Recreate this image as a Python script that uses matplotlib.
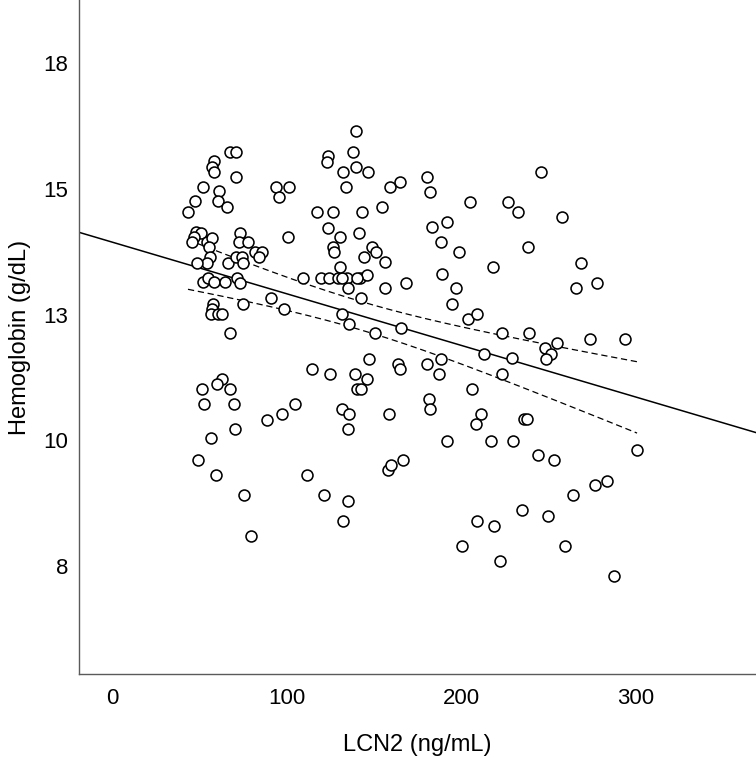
import numpy as np
import matplotlib
matplotlib.use("Agg")
import matplotlib.pyplot as plt
from matplotlib.ticker import FuncFormatter

plt.rcParams['font.family'] = ['Liberation Sans', 'DejaVu Sans']

# ---- data ----
lcn2 = [
    67.6, 71.0, 58.6, 57.1, 58.2, 71.2, 52.3, 61.1, 60.9, 65.8, 47.7, 43.5, 93.7, 101.5, 95.8,
    123.9, 123.3, 117.5, 126.7, 123.9, 100.6, 48.1, 51.0, 46.9, 45.6, 54.6, 57.1, 55.7, 73.3,
    72.7, 78.0, 55.9, 54.2, 48.5, 66.2, 71.0, 74.6, 75.2, 81.9, 85.7, 84.2, 126.7, 126.9,
    52.3, 55.2, 58.4, 64.7, 71.4, 73.3, 90.8, 74.8, 98.7, 58.0, 57.1, 56.7, 60.9, 63.1, 67.6,
    109.3, 119.5, 124.5, 129.6, 114.5, 124.6, 62.8, 59.9, 67.6, 51.4, 52.7, 69.8, 104.8, 97.5,
    88.9, 70.4, 56.7,
    49.2, 59.5, 75.8, 79.8, 111.6, 121.6,
    191.6, 217.0, 157.8, 159.7, 166.8, 135.3, 132.5, 209.0, 218.9, 200.4, 221.9,
    229.8, 243.7, 252.9, 300.6, 263.7, 276.5, 283.6, 235.0, 249.8, 259.5, 287.6,
    134.4, 142.0, 135.3, 145.8, 156.2, 168.3, 189.1, 196.9, 194.5, 142.4, 131.5, 135.7, 150.7,
    165.6, 203.8, 208.8, 223.4, 213.0, 223.1, 188.4, 180.2, 187.0, 147.1, 163.7, 165.1, 139.3,
    145.8, 140.3, 142.4, 206.3, 181.7, 182.2, 131.5, 135.9, 158.8, 211.3, 208.2, 135.3, 131.9,
    140.5,
    139.8, 138.0, 139.8, 146.8, 132.1, 134.2, 159.3, 164.9, 180.5, 181.9, 204.7, 143.3, 154.6,
    130.5, 141.4, 183.0, 192.0, 188.2, 198.5, 218.0, 149.0, 151.3, 144.4, 156.2, 130.5,
    245.8, 226.5, 232.6, 257.8, 238.3, 268.7,
    265.6, 277.7, 238.7, 254.6, 247.9, 251.2, 248.3, 273.8, 293.7, 229.2, 235.9, 237.8,
]
hemoglobin = [
    15.74, 15.74, 15.55, 15.44, 15.34, 15.24, 15.04, 14.95, 14.75, 14.64, 14.75, 14.54, 15.03,
    15.03, 14.83, 15.66, 15.54, 14.54, 14.54, 14.23, 14.04, 14.15, 14.13, 14.05, 13.95, 13.95,
    14.03, 13.85, 14.13, 13.94, 13.94, 13.65, 13.52, 13.53, 13.53, 13.65, 13.65, 13.53, 13.75,
    13.75, 13.65, 13.84, 13.74,
    13.15, 13.22, 13.15, 13.15, 13.22, 13.12, 12.83, 12.72, 12.62, 12.72, 12.62, 12.52, 12.52,
    12.52, 12.13, 13.22, 13.22, 13.22, 13.22, 11.42, 11.32, 11.22, 11.12, 11.02, 11.02, 10.72,
    10.72, 10.72, 10.52, 10.41, 10.22, 10.04,
    9.61, 9.31, 8.91, 8.10, 9.31, 8.91,
    9.98, 9.98, 9.41, 9.51, 9.61, 8.80, 8.40, 8.40, 8.30, 7.90, 7.60,
    9.98, 9.71, 9.61, 9.81, 8.91, 9.11, 9.20, 8.61, 8.50, 7.90, 7.30,
    13.22, 13.22, 13.02, 13.29, 13.02, 13.13, 13.30, 13.02, 12.72, 12.83, 12.52, 12.32, 12.13,
    12.23, 12.42, 12.52, 12.13, 11.72, 11.32, 11.62, 11.52, 11.32, 11.62, 11.52, 11.42, 11.32,
    11.22, 11.02, 11.02, 11.02, 10.82, 10.62, 10.62, 10.52, 10.52, 10.52, 10.32, 10.22, 13.22,
    13.22,
    16.15, 15.74, 15.44, 15.34, 15.34, 15.04, 15.04, 15.14, 15.24, 14.94, 14.74, 14.54, 14.64,
    14.04, 14.13, 14.24, 14.34, 13.94, 13.74, 13.44, 13.84, 13.74, 13.64, 13.54, 13.45,
    15.34, 14.74, 14.54, 14.43, 13.84, 13.53,
    13.03, 13.13, 12.13, 11.93, 11.83, 11.72, 11.62, 12.02, 12.02, 11.63, 10.42, 10.42,
]
x_ticks = [0, 100, 200, 300]
y_ticks = [7.5, 10.0, 12.5, 15.0, 17.5]
x_label = "LCN2 (ng/mL)"
y_label = "Hemoglobin (g/dL)"

x = np.asarray(lcn2)
y = np.asarray(hemoglobin)

# linear fit + 95% CI of the mean
n = len(x)
slope, intercept = np.polyfit(x, y, 1)
resid = y - (intercept + slope * x)
s = np.sqrt(np.sum(resid ** 2) / (n - 2))
xbar = x.mean()
sxx = np.sum((x - xbar) ** 2)
t = 1.973

fig = plt.figure(figsize=(7.56, 7.58), dpi=100)
ax = fig.add_axes([79 / 756, 1 - 674 / 758, 1 - 79 / 756, 674 / 758])
xlim = (-18.9, 368.7)
ylim = (5.36, 18.75)
ax.set_xlim(*xlim)
ax.set_ylim(*ylim)

xl = np.linspace(xlim[0], xlim[1], 200)
ax.plot(xl, intercept + slope * xl, color='black', lw=1.1, zorder=2)
xc = np.linspace(x.min(), x.max(), 200)
hw = t * s * np.sqrt(1 / n + (xc - xbar) ** 2 / sxx)
yc = intercept + slope * xc
ax.plot(xc, yc + hw, color='black', lw=0.9, ls=(0, (5, 3)), zorder=2)
ax.plot(xc, yc - hw, color='black', lw=0.9, ls=(0, (5, 3)), zorder=2)

ax.scatter(x, y, s=62, facecolors='white', edgecolors='black', linewidths=1.15, zorder=3)

for side in ('top', 'right'):
    ax.spines[side].set_visible(False)
for side in ('left', 'bottom'):
    ax.spines[side].set_color('#5a5a5a')
    ax.spines[side].set_linewidth(1.0)

ax.set_xticks(x_ticks)
ax.set_yticks(y_ticks)
ax.yaxis.set_major_formatter(FuncFormatter(lambda v, p: f"{int(np.floor(v + 0.5))}"))
ax.tick_params(axis='both', length=0, labelsize=16, colors='black')
ax.tick_params(axis='x', pad=10)
ax.tick_params(axis='y', pad=8)
ax.set_xlabel(x_label, fontsize=17, labelpad=18)
ax.set_ylabel(y_label, fontsize=17, labelpad=9)

fig.savefig("out.png", dpi=100)
